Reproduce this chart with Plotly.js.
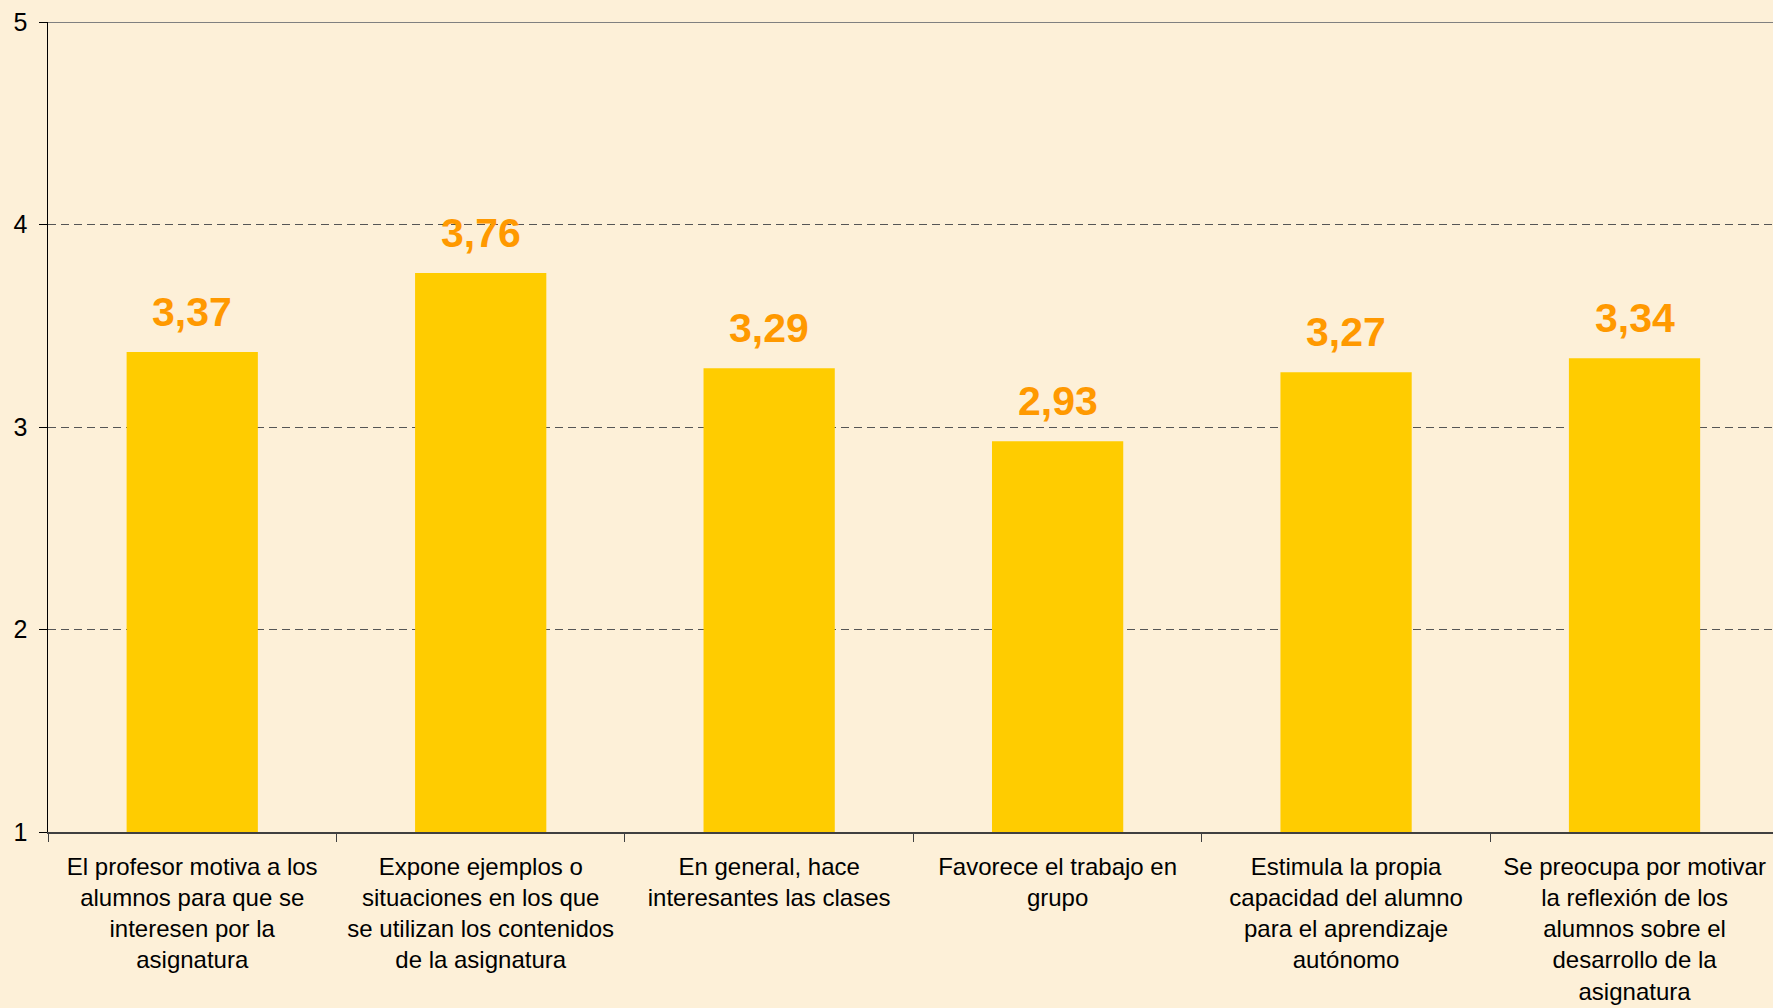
<!DOCTYPE html>
<html>
<head>
<meta charset="utf-8">
<script src="https://cdn.plot.ly/plotly-3.0.1.min.js"></script>
<style>
html,body{margin:0;padding:0;background:#fdf0d8;}
#chart{width:1773px;height:1008px;}
</style>
</head>
<body>
<div id="chart"></div>
<script>
const categories = [
  "El profesor motiva a los<br>alumnos para que se<br>interesen por la<br>asignatura",
  "Expone ejemplos o<br>situaciones en los que<br>se utilizan los contenidos<br>de la asignatura",
  "En general, hace<br>interesantes las clases",
  "Favorece el trabajo en<br>grupo",
  "Estimula la propia<br>capacidad del alumno<br>para el aprendizaje<br>autónomo",
  "Se preocupa por motivar<br>la reflexión de los<br>alumnos sobre el<br>desarrollo de la<br>asignatura"
];
const values = [3.37, 3.76, 3.29, 2.93, 3.27, 3.34];
const valueLabels = ["3,37", "3,76", "3,29", "2,93", "3,27", "3,34"];
const yTicks = [1, 2, 3, 4, 5];

const trace = {
  type: 'bar',
  x: categories,
  y: values,
  marker: {color: '#ffcc00', line: {width: 0}},
  hoverinfo: 'skip'
};

const annotations = categories.map((c, i) => ({
  x: c, y: values[i], xref: 'x', yref: 'y',
  text: valueLabels[i],
  showarrow: false,
  yanchor: 'bottom',
  yshift: 15,
  font: {family: 'Liberation Sans, Arial, sans-serif', size: 41, color: '#ff9900', weight: 'bold'}
}));

const layout = {
  width: 1773, height: 1008,
  paper_bgcolor: '#fdf0d8',
  plot_bgcolor: 'rgba(0,0,0,0)',
  margin: {l: 48, r: 0, t: 22, b: 176},
  bargap: 0.545,
  showlegend: false,
  font: {family: 'Liberation Sans, Arial, sans-serif', color: '#000'},
  xaxis: {
    type: 'category',
    range: [-0.5, 5.48],
    tickson: 'boundaries',
    ticks: 'outside', ticklen: 8, tickcolor: '#404040', tickwidth: 1,
    showline: true, linecolor: '#404040', linewidth: 2,
    showgrid: false,
    tickfont: {size: 24, color: '#000'},
    ticklabelstandoff: 12,
    automargin: false
  },
  yaxis: {
    range: [1, 5],
    tickvals: yTicks,
    ticktext: yTicks.map(String),
    ticks: 'outside', ticklen: 8, tickcolor: '#000', tickwidth: 1,
    showline: true, linecolor: '#000', linewidth: 1.5,
    showgrid: true, gridcolor: '#555555', gridwidth: 1, griddash: '8px,5px',
    zeroline: false,
    tickfont: {size: 25, color: '#000'},
    ticklabelstandoff: 6,
    automargin: false
  },
  shapes: [{
    type: 'line', xref: 'paper', yref: 'y', x0: 0, x1: 1, y0: yTicks[yTicks.length-1], y1: yTicks[yTicks.length-1],
    line: {color: '#808080', width: 2}, layer: 'above'
  }],
  annotations: annotations
};

Plotly.newPlot('chart', [trace], layout, {displayModeBar: false, staticPlot: true});
</script>
</body>
</html>
